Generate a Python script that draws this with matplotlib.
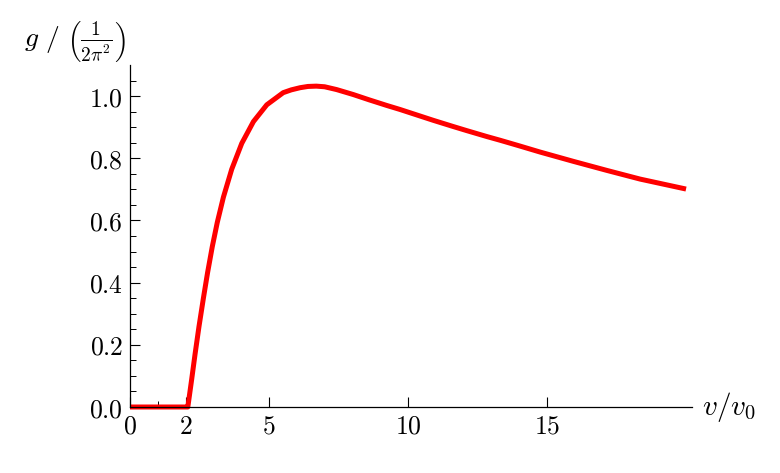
import matplotlib
matplotlib.use("Agg")
import matplotlib.pyplot as plt
from matplotlib.ticker import FixedLocator, FixedFormatter

plt.rcParams['mathtext.fontset'] = 'cm'
plt.rcParams['font.family'] = ['DejaVu Serif']

# data
v_ratio = [0.0, 2.0, 2.08, 2.22, 2.34, 2.48, 2.64, 2.79, 2.96, 3.14, 3.36, 3.66,
           4.02, 4.44, 4.92, 5.51, 5.80, 6.12, 6.40, 6.70, 7.00, 7.43, 8.03, 8.60,
           9.23, 9.71, 10.43, 10.91, 11.63, 12.11, 12.83, 13.31, 14.00, 14.75,
           15.95, 17.15, 18.35, 20.0]
g_scaled = [0.0, 0.0, 0.0, 0.090, 0.170, 0.258, 0.350, 0.432, 0.516, 0.594, 0.675, 0.765,
            0.848, 0.918, 0.972, 1.011, 1.020, 1.027, 1.031, 1.032, 1.030, 1.021, 1.005, 0.988,
            0.970, 0.957, 0.936, 0.922, 0.902, 0.889, 0.870, 0.858, 0.840, 0.820,
            0.790, 0.761, 0.733, 0.701]

x_major = [0, 2, 5, 10, 15]
x_minor = [1]
x_labels = ['0', '2', '5', '10', '15']
y_major = [0.0, 0.2, 0.4, 0.6, 0.8, 1.0]
y_minor = [0.05, 0.10, 0.15, 0.25, 0.30, 0.35, 0.45, 0.50, 0.55,
           0.65, 0.70, 0.75, 0.85, 0.90, 0.95, 1.05]
y_labels = ['0.0', '0.2', '0.4', '0.6', '0.8', '1.0']

fig = plt.figure(figsize=(7.8, 4.73), dpi=100)
ax = fig.add_axes([130/780, 66/473, (691.6-130)/780, (408-66)/473])

ax.plot(v_ratio, g_scaled, color='#ff0000', lw=3.6, solid_capstyle='butt',
        solid_joinstyle='round', clip_on=False, zorder=2)

ax.set_xlim(0, 20.2)
ax.set_ylim(0, 1.1)

for s in ['top', 'right']:
    ax.spines[s].set_visible(False)
for s in ['left', 'bottom']:
    ax.spines[s].set_linewidth(0.9)
    ax.spines[s].set_zorder(3)

ax.xaxis.set_major_locator(FixedLocator(x_major))
ax.xaxis.set_major_formatter(FixedFormatter([f'${t}$' for t in x_labels]))
ax.xaxis.set_minor_locator(FixedLocator(x_minor))
ax.yaxis.set_major_locator(FixedLocator(y_major))
ax.yaxis.set_major_formatter(FixedFormatter([f'${t}$' for t in y_labels]))
ax.yaxis.set_minor_locator(FixedLocator(y_minor))

ax.tick_params(axis='both', which='major', direction='in', length=7, width=0.8,
               labelsize=18.5, color='black')
ax.tick_params(axis='both', which='minor', direction='in', length=4, width=0.7)
ax.tick_params(axis='x', which='major', pad=5)
ax.tick_params(axis='y', which='major', pad=5)

fig.text(75/780, 1 - 42/473, r'$g\ /\ \left(\frac{1}{2\pi^2}\right)$', fontsize=20,
         ha='center', va='center')
fig.text(729/780, 1 - 407/473, r'$v/v_0$', fontsize=21, ha='center', va='center')

fig.savefig('out.png', dpi=100, facecolor='white')
